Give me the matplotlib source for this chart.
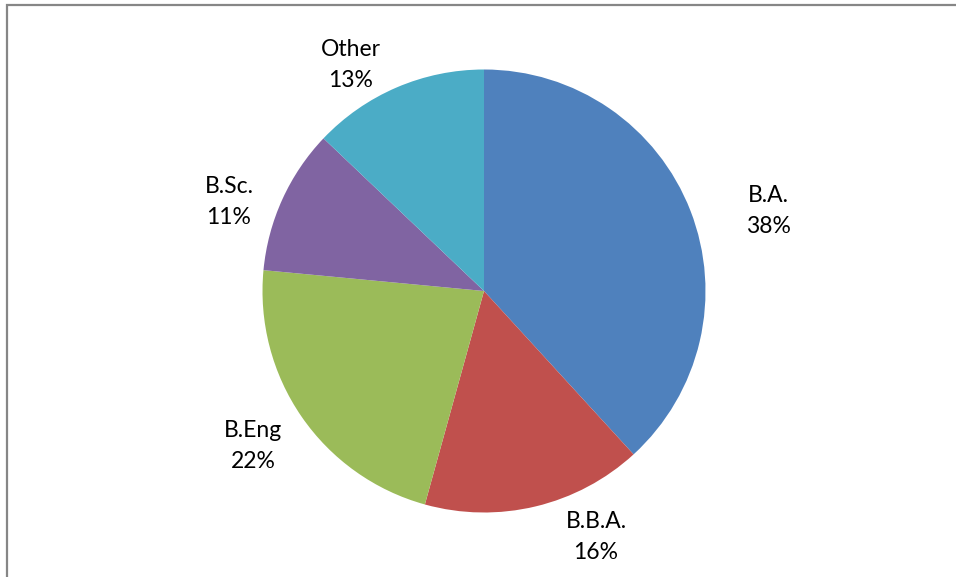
import matplotlib.pyplot as plt
from matplotlib.patches import Rectangle

degrees = ["B.A.", "B.B.A.", "B.Eng", "B.Sc.", "Other"]
shares = [38.2, 16.1, 22.2, 10.6, 12.9]
colors = ["#4F81BD", "#C0504D", "#9BBB59", "#8064A2", "#4BACC6"]

# label anchor (px from top-left of image), Excel "outside end" placement
label_pos = [(768, 211), (596, 537), (253, 446), (229, 202), (351, 65)]

W, H = 956, 577
fig = plt.figure(figsize=(W / 100, H / 100), dpi=100)
ax = fig.add_axes([0, 0, 1, 1])

wedges, texts = ax.pie(shares, colors=colors, startangle=90, counterclock=False,
                       center=(484, H - 291), radius=221.5, frame=True,
                       labels=[f"{d}\n{s:.0f}%" for d, s in zip(degrees, shares)],
                       textprops=dict(fontsize=16.5, family="Lato", color="black",
                                      linespacing=1.55))
ax.set_xlim(0, W)
ax.set_ylim(0, H)
ax.set_aspect("equal")
ax.axis("off")
for t, (x, y) in zip(texts, label_pos):
    t.set_position((x, H - y))
    t.set_ha("center")
    t.set_va("center")

# chart area border (continues past the right and bottom edges)
fig.patches.append(Rectangle((6.5 / W, -0.1), 1.2, 1 - 4.5 / H + 0.1,
                             transform=fig.transFigure, fill=False,
                             edgecolor="#868686", linewidth=1.6))

fig.savefig("out.png", dpi=100)
